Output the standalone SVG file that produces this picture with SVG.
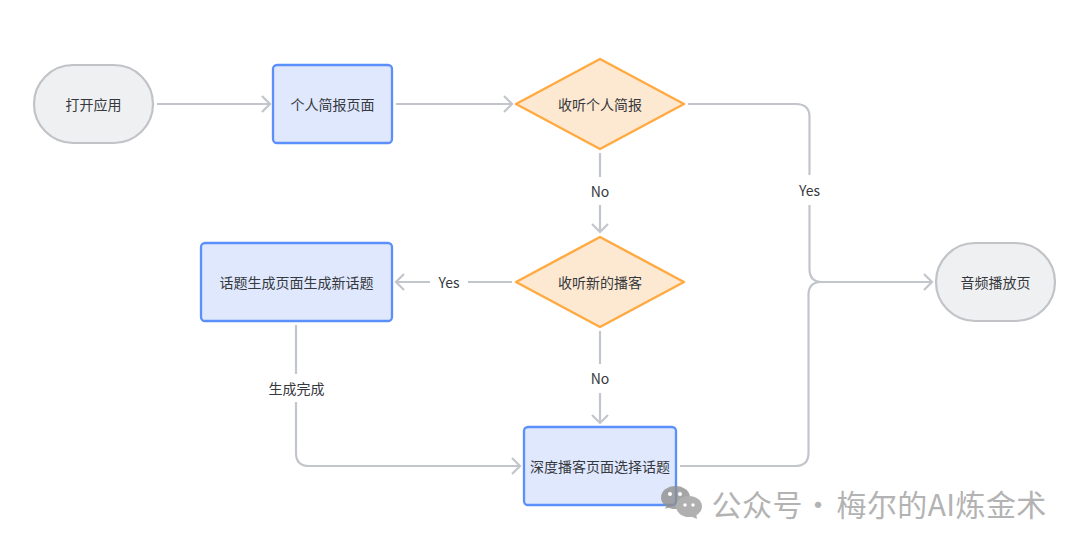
<svg xmlns="http://www.w3.org/2000/svg" width="1080" height="547" viewBox="0 0 1080 547">
<style>
text{font-family:"Noto Sans CJK SC","Noto Sans",sans-serif;font-size:14px;fill:#35383d;text-anchor:middle;dominant-baseline:central}
.pill{fill:#eff0f2;stroke:#c1c3c7;stroke-width:2.2}
.box{fill:#e0e8fd;stroke:#5b8ff9;stroke-width:2.3}
.dia{fill:#fde8d1;stroke:#ffa940;stroke-width:2.4;stroke-linejoin:round}
.edge{fill:none;stroke:#c2c5cb;stroke-width:2.2}
.wm{font-size:30px;fill:#b3b3b3;text-anchor:start}
</style>
<defs>
<marker id="arr" markerUnits="userSpaceOnUse" markerWidth="14" markerHeight="20" refX="9.500" refY="10" orient="auto">
<path d="M1.500 2 L9.500 10 L1.500 18" fill="none" stroke="#c2c5cb" stroke-width="2.200"/>
</marker>
</defs>
<rect width="1080" height="547" fill="#fff"/>
<g id="connectors">
<path class="edge" d="M157 104H270" marker-end="url(#arr)"/>
<path class="edge" d="M396 104H512" marker-end="url(#arr)"/>
<path class="edge" d="M688 104H796Q809.500 104 809.500 117V175"/>
<path class="edge" d="M809.500 205V269Q809.500 282 822 282H932" marker-end="url(#arr)"/>
<path class="edge" d="M600 153V177"/>
<path class="edge" d="M600 205V232" marker-end="url(#arr)"/>
<path class="edge" d="M512 282H468"/>
<path class="edge" d="M430 282H396" marker-end="url(#arr)"/>
<path class="edge" d="M600 331V364"/>
<path class="edge" d="M600 393V423" marker-end="url(#arr)"/>
<path class="edge" d="M296 325V374"/>
<path class="edge" d="M296 402V453Q296 466 309 466H520" marker-end="url(#arr)"/>
<path class="edge" d="M680 466H795Q808.500 466 808.500 453V295Q808.500 282 821 282H835"/>
<text x="809.500" y="189.500">Yes</text>
<text x="600" y="191">No</text>
<text x="449" y="282">Yes</text>
<text x="600" y="378">No</text>
<text x="296.500" y="388">生成完成</text>
</g>
<g id="start"><rect class="pill" x="34" y="65" width="119" height="78" rx="39" ry="39"/><text x="93.500" y="103.500">打开应用</text></g>
<g id="brief"><rect class="box" x="273" y="65" width="119" height="78" rx="4"/><text x="332.500" y="103.500">个人简报页面</text></g>
<g id="listen-brief"><polygon class="dia" points="516,104 600,59 684,104 600,149"/><text x="600" y="103.500">收听个人简报</text></g>
<g id="listen-new"><polygon class="dia" points="516,282 600,237 684,282 600,327"/><text x="600" y="281.500">收听新的播客</text></g>
<g id="topic-gen"><rect class="box" x="201" y="243" width="191" height="78" rx="4"/><text x="296.500" y="281.500">话题生成页面生成新话题</text></g>
<g id="deep"><rect class="box" x="524" y="427" width="152" height="78" rx="4"/><text x="600" y="465.500">深度播客页面选择话题</text></g>
<g id="player"><rect class="pill" x="936" y="243" width="119" height="78" rx="39" ry="39"/><text x="995.500" y="281.500">音频播放页</text></g>
<g id="watermark">
<path d="M668 503l-3 6 7-3z" fill="#8f8f8f" fill-opacity=".8"/>
<ellipse cx="675.500" cy="497.500" rx="14.500" ry="11.500" fill="#8f8f8f" fill-opacity=".8"/>
<path d="M696 513l1 6-7-3z" fill="#b0b0b0"/>
<ellipse cx="689" cy="506.500" rx="13" ry="10.500" fill="#b0b0b0"/>
<circle cx="670" cy="494" r="2" fill="#fff"/><circle cx="680" cy="494" r="2" fill="#fff"/>
<circle cx="685" cy="505" r="1.700" fill="#fff"/><circle cx="693" cy="505" r="1.700" fill="#fff"/>
<text class="wm" y="503"><tspan x="711.500" letter-spacing=".5">公众号</tspan><tspan x="803">·</tspan><tspan x="836.500" letter-spacing=".4">梅尔的AI炼金术</tspan></text>
</g>
</svg>
